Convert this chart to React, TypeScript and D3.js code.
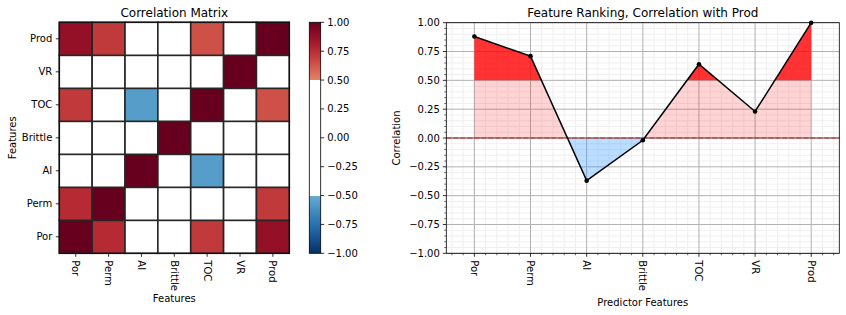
import React from "react";
import * as d3 from "d3";

const features = ["Por", "Perm", "AI", "Brittle", "TOC", "VR", "Prod"];
const corrPor = [1.0, 0.76, -0.46, -0.22, 0.71, 0.11, 0.88];
const corrPerm = [0.76, 1.0, -0.24, -0.12, 0.47, 0.05, 0.71];
const corrAI = [-0.46, -0.24, 1.0, 0.17, -0.56, 0.48, -0.37];
const corrBrittle = [-0.22, -0.12, 0.17, 1.0, -0.21, 0.32, -0.02];
const corrTOC = [0.71, 0.47, -0.56, -0.21, 1.0, 0.3, 0.64];
const corrVR = [0.11, 0.05, 0.48, 0.32, 0.3, 1.0, 0.23];
const corrProd = [0.88, 0.71, -0.37, -0.02, 0.64, 0.23, 1.0];
const matrix = [corrPor, corrPerm, corrAI, corrBrittle, corrTOC, corrVR, corrProd];
const prodRanking = [0.88, 0.71, -0.37, -0.02, 0.64, 0.23, 1.0];
const corrTicks = [-1, -0.75, -0.5, -0.25, 0, 0.25, 0.5, 0.75, 1];

const FONT = "DejaVu Sans, sans-serif";

function cellColor(v: number): string {
  if (Math.abs(v) < 0.5) return "#ffffff";
  return d3.interpolateRdBu((1 - v) / 2);
}

function fmt(v: number): string {
  return d3.format(".2f")(v).replace("-", "\u2212");
}

export default function App() {
  // Heatmap
  const hx = d3.scaleBand<string>().domain(features).range([59.3, 289.3]);
  const hy = d3.scaleBand<string>().domain([...features].reverse()).range([22.3, 253.3]);
  const cbY = d3.scaleLinear().domain([-1, 1]).range([253.3, 22.3]);
  const cbX0 = 309.3;
  const cbX1 = 320.7;

  const gradStops: { off: number; color: string }[] = [];
  const gv = d3.range(-1, -0.5 + 1e-9, 0.05).concat(d3.range(0.5, 1 + 1e-9, 0.05));
  gv.forEach((v) => gradStops.push({ off: (v + 1) / 2, color: d3.interpolateRdBu((1 - v) / 2) }));
  gradStops.push({ off: 0.25, color: "#ffffff" }, { off: 0.75, color: "#ffffff" });
  gradStops.sort((a, b) => a.off - b.off || (a.off < 0.5 ? (a.color === "#ffffff" ? 1 : -1) : (a.color === "#ffffff" ? -1 : 1)));

  // Ranking chart
  const x = d3.scaleLinear().domain([-0.5, 6.5]).range([446.3, 839.3]);
  const y = d3.scaleLinear().domain([-1, 1]).range([253.3, 22.7]);
  const xMinor = d3.range(-0.4, 6.5, 0.2).map((v) => Math.round(v * 10) / 10).filter((v) => Math.abs(v - Math.round(v)) > 1e-6);
  const yMinor = d3.range(-1, 1.0001, 0.05).map((v) => Math.round(v * 100) / 100).filter((v) => Math.abs(v * 4 - Math.round(v * 4)) > 1e-6);
  const area = d3.area<number>().x((_, i) => x(i)).y0(y(0)).y1((d) => y(d));
  const line = d3.line<number>().x((_, i) => x(i)).y((d) => y(d));
  const areaPath = area(prodRanking) || "";
  const linePath = line(prodRanking) || "";
  const pw = x(6.5) - x(-0.5);

  return (
    <svg width={846} height={315} style={{ position: "absolute", left: 0, top: 0, display: "block" }} fontFamily={FONT}>
      <defs>
        <linearGradient id="cbgrad" x1="0" y1="1" x2="0" y2="0">
          {gradStops.map((s, i) => (
            <stop key={i} offset={s.off} stopColor={s.color} />
          ))}
        </linearGradient>
        <clipPath id="clipHigh">
          <rect x={x(-0.5)} y={y(1)} width={pw} height={y(0.5) - y(1)} />
        </clipPath>
        <clipPath id="clipMid">
          <rect x={x(-0.5)} y={y(0.5)} width={pw} height={y(0) - y(0.5)} />
        </clipPath>
        <clipPath id="clipLow">
          <rect x={x(-0.5)} y={y(0)} width={pw} height={y(-1) - y(0)} />
        </clipPath>
      </defs>
      <rect x={0} y={0} width={846} height={315} fill="#fff" />

      {/* Heatmap */}
      <text x={(hx.range()[0] + hx.range()[1]) / 2} y={16.5} textAnchor="middle" fontSize={12}>
        Correlation Matrix
      </text>
      {matrix.map((row, ri) =>
        row.map((v, ci) => (
          <rect
            key={`${ri}-${ci}`}
            x={hx(features[ci])}
            y={hy(features[ri])}
            width={hx.bandwidth()}
            height={hy.bandwidth()}
            fill={cellColor(v)}
            stroke="#262626"
            strokeWidth={1.6}
          />
        ))
      )}
      <rect x={59.3} y={22.3} width={230} height={231} fill="none" stroke="#111" strokeWidth={1.2} />
      {features.map((f) => {
        const cy = (hy(f) || 0) + hy.bandwidth() / 2;
        const cx = (hx(f) || 0) + hx.bandwidth() / 2;
        return (
          <g key={f}>
            <line x1={59.3} x2={55.8} y1={cy} y2={cy} stroke="#000" strokeWidth={0.8} />
            <text x={52.3} y={cy} dy="0.35em" textAnchor="end" fontSize={10}>
              {f}
            </text>
            <line x1={cx} x2={cx} y1={253.3} y2={256.8} stroke="#000" strokeWidth={0.8} />
            <text transform={`translate(${cx},${260.3}) rotate(90)`} dy="0.35em" textAnchor="start" fontSize={10}>
              {f}
            </text>
          </g>
        );
      })}
      <text x={174.3} y={302} textAnchor="middle" fontSize={10}>
        Features
      </text>
      <text transform={`translate(15.5,137.8) rotate(-90)`} textAnchor="middle" fontSize={10}>
        Features
      </text>

      {/* Colorbar */}
      <rect x={cbX0} y={cbY(1)} width={cbX1 - cbX0} height={cbY(-1) - cbY(1)} fill="url(#cbgrad)" stroke="#000" strokeWidth={0.8} />
      {corrTicks.map((t) => (
        <g key={t}>
          <line x1={cbX1} x2={cbX1 + 3.5} y1={cbY(t)} y2={cbY(t)} stroke="#000" strokeWidth={0.8} />
          <text x={cbX1 + 6.5} y={cbY(t)} dy="0.35em" fontSize={10}>
            {fmt(t)}
          </text>
        </g>
      ))}

      {/* Ranking chart */}
      <text x={(x(-0.5) + x(6.5)) / 2} y={16.5} textAnchor="middle" fontSize={12}>
        Feature Ranking, Correlation with Prod
      </text>
      {xMinor.map((v) => (
        <line key={`xm${v}`} x1={x(v)} x2={x(v)} y1={y(-1)} y2={y(1)} stroke="#efefef" strokeWidth={1} />
      ))}
      {yMinor.map((v) => (
        <line key={`ym${v}`} x1={x(-0.5)} x2={x(6.5)} y1={y(v)} y2={y(v)} stroke="#efefef" strokeWidth={1} />
      ))}
      {features.map((_, i) => (
        <line key={`xg${i}`} x1={x(i)} x2={x(i)} y1={y(-1)} y2={y(1)} stroke="#b0b0b0" strokeWidth={1} />
      ))}
      {corrTicks.map((t) => (
        <line key={`yg${t}`} x1={x(-0.5)} x2={x(6.5)} y1={y(t)} y2={y(t)} stroke="#b0b0b0" strokeWidth={1} />
      ))}
      <path d={areaPath} fill="red" fillOpacity={0.8} clipPath="url(#clipHigh)" />
      <path d={areaPath} fill="red" fillOpacity={0.17} clipPath="url(#clipMid)" />
      <path d={areaPath} fill="dodgerblue" fillOpacity={0.3} clipPath="url(#clipLow)" />
      <line x1={x(-0.5)} x2={x(6.5)} y1={y(0)} y2={y(0)} stroke="#444" strokeWidth={0.8} />
      <line x1={x(-0.5)} x2={x(6.5)} y1={y(0)} y2={y(0)} stroke="#e02020" strokeWidth={1} strokeDasharray="5,2" />
      <path d={linePath} fill="none" stroke="#000" strokeWidth={1.5} />
      {prodRanking.map((v, i) => (
        <circle key={`p${i}`} cx={x(i)} cy={y(v)} r={2.3} fill="#000" />
      ))}
      <rect x={x(-0.5)} y={y(1)} width={pw} height={y(-1) - y(1)} fill="none" stroke="#000" strokeWidth={0.8} />
      {xMinor.map((v) => (
        <line key={`xmt${v}`} x1={x(v)} x2={x(v)} y1={y(-1)} y2={y(-1) + 2} stroke="#000" strokeWidth={0.6} />
      ))}
      {yMinor.map((v) => (
        <line key={`ymt${v}`} x1={x(-0.5)} x2={x(-0.5) - 2} y1={y(v)} y2={y(v)} stroke="#000" strokeWidth={0.6} />
      ))}
      {features.map((f, i) => (
        <g key={`xt${f}`}>
          <line x1={x(i)} x2={x(i)} y1={y(-1)} y2={y(-1) + 3.5} stroke="#000" strokeWidth={0.8} />
          <text transform={`translate(${x(i)},${260.3}) rotate(90)`} dy="0.35em" textAnchor="start" fontSize={10}>
            {f}
          </text>
        </g>
      ))}
      {corrTicks.map((t) => (
        <g key={`yt${t}`}>
          <line x1={x(-0.5)} x2={x(-0.5) - 3.5} y1={y(t)} y2={y(t)} stroke="#000" strokeWidth={0.8} />
          <text x={x(-0.5) - 6.5} y={y(t)} dy="0.35em" textAnchor="end" fontSize={10}>
            {fmt(t)}
          </text>
        </g>
      ))}
      <text x={(x(-0.5) + x(6.5)) / 2} y={306} textAnchor="middle" fontSize={10}>
        Predictor Features
      </text>
      <text transform={`translate(400,138) rotate(-90)`} textAnchor="middle" fontSize={10}>
        Correlation
      </text>
    </svg>
  );
}
